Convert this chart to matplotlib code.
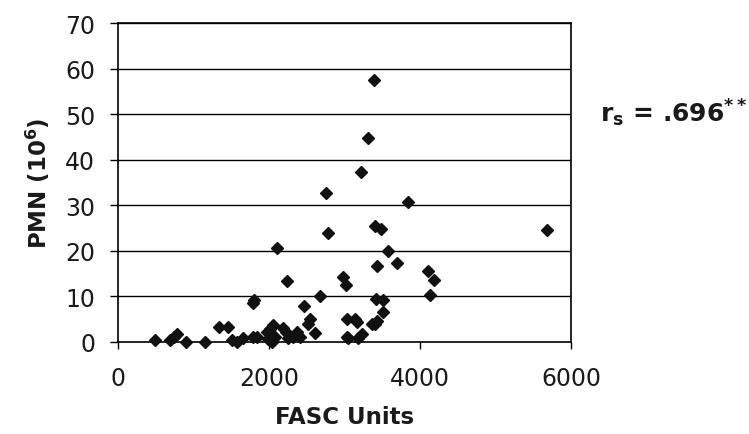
import matplotlib
matplotlib.use("Agg")
import matplotlib.pyplot as plt

plt.rcParams['font.family'] = ['DejaVu Sans']
plt.rcParams['mathtext.fontset'] = 'custom'
plt.rcParams['mathtext.rm'] = 'DejaVu Sans:bold'
plt.rcParams['mathtext.it'] = 'DejaVu Sans:bold'
plt.rcParams['mathtext.bf'] = 'DejaVu Sans:bold'

fasc = [490, 689, 742, 786, 901, 1153, 1340, 1460, 1506, 1572, 1661, 1785, 1838,
        1785, 1800, 1970, 1992, 2014, 2058, 2080, 2036, 2102, 2182, 2226, 2243,
        2257, 2315, 2368, 2412, 2465, 2544, 2522, 2610, 2677, 2756, 2782, 2977,
        3021, 3030, 3030, 3140, 3167, 3052, 3184, 3229, 3220, 3312, 3392, 3405,
        3480, 3428, 3582, 3696, 3842, 4105, 4187, 4134, 3419, 3507, 3507, 3405,
        3436, 3361, 5684]
pmn = [0.5, 0.5, 1.2, 1.8, 0.1, 0.1, 3.3, 3.3, 0.4, 0.1, 0.9, 1.0, 1.2,
       8.6, 9.3, 2.1, 0.7, 2.9, 3.7, 1.0, 0.1, 20.6, 3.0, 2.3, 13.4,
       0.8, 1.2, 2.1, 1.0, 8.0, 5.0, 3.9, 1.9, 10.0, 32.7, 23.9, 14.3,
       12.5, 5.0, 1.0, 5.0, 4.3, 0.9, 0.8, 1.8, 37.3, 44.7, 57.5, 25.5,
       24.8, 16.7, 19.9, 17.3, 30.7, 15.6, 13.7, 10.3, 9.4, 9.2, 6.6, 3.9,
       4.5, 3.9, 24.6]

x_ticks = [0, 2000, 4000, 6000]
y_ticks = [0, 10, 20, 30, 40, 50, 60, 70]

fig = plt.figure(figsize=(7.49, 4.35), dpi=100)
ax = fig.add_axes([118/749, 1-343/435, (571-118)/749, (343-24)/435])

for yv in y_ticks[1:]:
    ax.axhline(yv, color='black', lw=1.0, zorder=1)

ax.plot(fasc, pmn, 'D', color='#111111', ms=5.8, mec='#111111', zorder=3, clip_on=False)

ax.set_xlim(0, 6000)
ax.set_ylim(0, 70)
ax.set_xticks(x_ticks)
ax.set_yticks(y_ticks)
ax.tick_params(axis='both', direction='out', width=1, color='black',
               labelsize=17, labelcolor='#1a1a1a')
ax.tick_params(axis='y', pad=10.5, length=6)
ax.tick_params(axis='x', pad=12, length=5)
for sp in ax.spines.values():
    sp.set_color('black')
    sp.set_linewidth(1.2)

ax.set_xlabel('FASC Units', fontsize=16.5, fontweight='bold', color='#1a1a1a', labelpad=11)
ax.set_ylabel('PMN (10$^{\\mathregular{6}}$)', fontsize=16.5, fontweight='bold', color='#1a1a1a', labelpad=9)

fig.text(600/749, 1-122/435, r'r$_{\mathregular{s}}$ = .696$^{\mathregular{**}}$',
         fontsize=18, fontweight='bold', color='#1a1a1a', ha='left', va='baseline')

fig.savefig('out.png', dpi=100)
